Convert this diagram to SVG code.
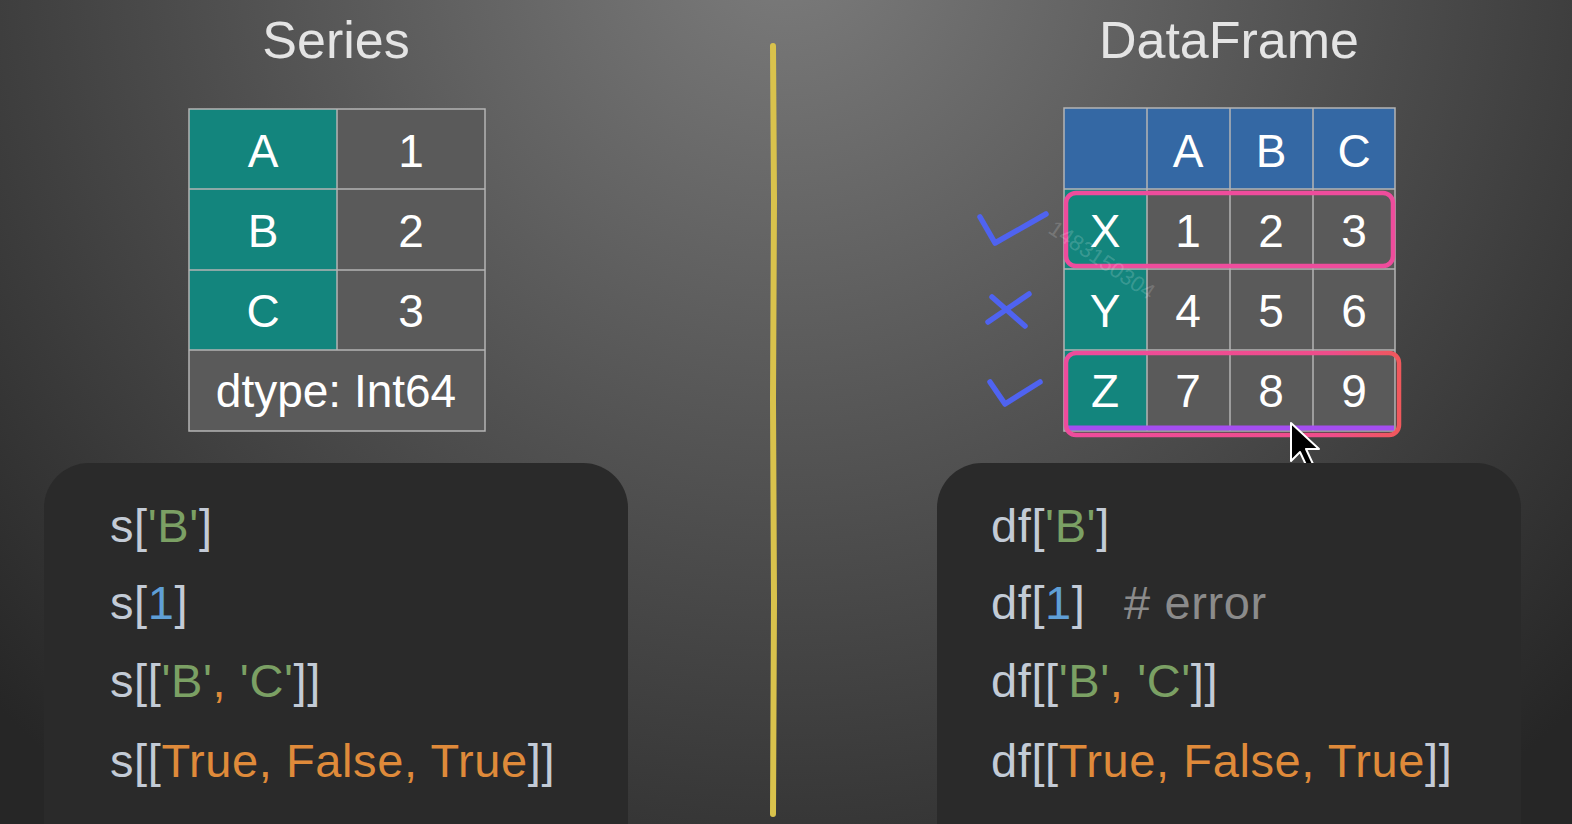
<svg xmlns="http://www.w3.org/2000/svg" width="1572" height="824" viewBox="0 0 1572 824">
<defs>
  <radialGradient id="bg" cx="786" cy="-60" r="1100" gradientUnits="userSpaceOnUse">
    <stop offset="0" stop-color="#7c7c7c"/>
    <stop offset="0.45" stop-color="#555555"/>
    <stop offset="1" stop-color="#262626"/>
  </radialGradient>
  <linearGradient id="zgrad" x1="0" y1="0" x2="1" y2="0">
    <stop offset="0" stop-color="#ee4c9c"/>
    <stop offset="0.8" stop-color="#ef4d8a"/>
    <stop offset="1" stop-color="#f0585c"/>
  </linearGradient>
  <style>
    .title{font-family:"Liberation Sans",Arial,sans-serif;font-size:52px;fill:#e4e4e4;text-anchor:middle}
    .cell{font-family:"Liberation Sans",Arial,sans-serif;font-size:46px;fill:#ffffff;text-anchor:middle}
    .code{font-family:"Liberation Sans",Arial,sans-serif;font-size:47px;fill:#c3cbd6;letter-spacing:0.6px}
    .str{fill:#7ba064}
    .num{fill:#5f9fd6}
    .bool{fill:#df8a3a}
    .cmt{fill:#8b8b8b}
    .teal{fill:#13857d}
    .gray{fill:#5a5a5a}
    .blue{fill:#3468a4}
    .grid{stroke:#b4b4b4;stroke-width:1.5;fill:none}
    .mark{stroke:#4f63f0;stroke-width:5.5;fill:none;stroke-linecap:round;stroke-linejoin:round}
    .box{fill:#2a2a2a}
  </style>
</defs>
<rect x="0" y="0" width="1572" height="824" fill="url(#bg)"/>

<g id="titles">
  <text class="title" x="336" y="58">Series</text>
  <text class="title" x="1229" y="58">DataFrame</text>
</g>

<g id="divider">
  <path d="M773 46 L774 200 L773 400 L774 600 L773 814" stroke="#d9c24c" stroke-width="6" fill="none" stroke-linecap="round"/>
</g>

<g id="series-table">
  <rect class="teal" x="189" y="109" width="148" height="241"/>
  <rect class="gray" x="337" y="109" width="148" height="241"/>
  <rect class="gray" x="189" y="350" width="296" height="81"/>
  <path class="grid" d="M189 109 H485 V431 H189 Z M337 109 V350 M189 189 H485 M189 270 H485 M189 350 H485"/>
  <text class="cell" x="263" y="167">A</text>
  <text class="cell" x="411" y="167">1</text>
  <text class="cell" x="263" y="247">B</text>
  <text class="cell" x="411" y="247">2</text>
  <text class="cell" x="263" y="327">C</text>
  <text class="cell" x="411" y="327">3</text>
  <text class="cell" x="336" y="407">dtype: Int64</text>
</g>

<g id="dataframe-table">
  <rect class="blue" x="1064" y="108" width="331" height="81"/>
  <rect class="teal" x="1064" y="189" width="83" height="242"/>
  <rect class="gray" x="1147" y="189" width="248" height="242"/>
  <path class="grid" d="M1064 108 H1395 V431 H1064 Z M1147 108 V431 M1230 108 V431 M1313 108 V431 M1064 189 H1395 M1064 269 H1395 M1064 350 H1395"/>
  <text class="cell" x="1188" y="167">A</text>
  <text class="cell" x="1271" y="167">B</text>
  <text class="cell" x="1354" y="167">C</text>
  <text class="cell" x="1105" y="247">X</text>
  <text class="cell" x="1188" y="247">1</text>
  <text class="cell" x="1271" y="247">2</text>
  <text class="cell" x="1354" y="247">3</text>
  <text class="cell" x="1105" y="327">Y</text>
  <text class="cell" x="1188" y="327">4</text>
  <text class="cell" x="1271" y="327">5</text>
  <text class="cell" x="1354" y="327">6</text>
  <text class="cell" x="1105" y="407">Z</text>
  <text class="cell" x="1188" y="407">7</text>
  <text class="cell" x="1271" y="407">8</text>
  <text class="cell" x="1354" y="407">9</text>
</g>

<g id="highlights">
  <rect x="1066" y="193" width="327" height="73" rx="10" fill="none" stroke="#ee4c9c" stroke-width="4.5"/>
  <line x1="1068" y1="428" x2="1394" y2="428" stroke="#a44ef0" stroke-width="5"/>
  <rect x="1066" y="353" width="333" height="82" rx="10" fill="none" stroke="url(#zgrad)" stroke-width="4.5"/>
</g>

<g id="marks">
  <path class="mark" d="M980 217 L995 243 L1046 214"/>
  <path class="mark" d="M992 297 L1025 326 M1029 294 L988 322"/>
  <path class="mark" d="M990 382 L1005 404 L1040 382"/>
</g>

<g id="watermark">
  <text x="1047" y="232" transform="rotate(34 1047 232)" font-family="'Liberation Sans',Arial,sans-serif" font-size="22" fill="#ffffff" fill-opacity="0.18">1483150304</text>
</g>

<g id="cursor">
  <path d="M1291 423 L1291 461 L1300 452 L1307 467 L1313 464 L1306 449 L1319 449 Z" fill="#000000" stroke="#ffffff" stroke-width="2" stroke-linejoin="round"/>
</g>

<g id="series-code">
  <rect class="box" x="44" y="463" width="584" height="420" rx="45"/>
  <text class="code" x="110" y="542">s[<tspan class="str">'B'</tspan>]</text>
  <text class="code" x="110" y="619">s[<tspan class="num">1</tspan>]</text>
  <text class="code" x="110" y="697">s[[<tspan class="str">'B'</tspan><tspan class="bool">, </tspan><tspan class="str">'C'</tspan>]]</text>
  <text class="code" x="110" y="777">s[[<tspan class="bool">True, False, True</tspan>]]</text>
</g>

<g id="dataframe-code">
  <rect class="box" x="937" y="463" width="584" height="420" rx="45"/>
  <text class="code" x="991" y="542">df[<tspan class="str">'B'</tspan>]</text>
  <text class="code" x="991" y="619">df[<tspan class="num">1</tspan>]<tspan class="cmt" x="1124"># error</tspan></text>
  <text class="code" x="991" y="697">df[[<tspan class="str">'B'</tspan><tspan class="bool">, </tspan><tspan class="str">'C'</tspan>]]</text>
  <text class="code" x="991" y="777">df[[<tspan class="bool">True, False, True</tspan>]]</text>
</g>

<g id="connectors"/>
</svg>
